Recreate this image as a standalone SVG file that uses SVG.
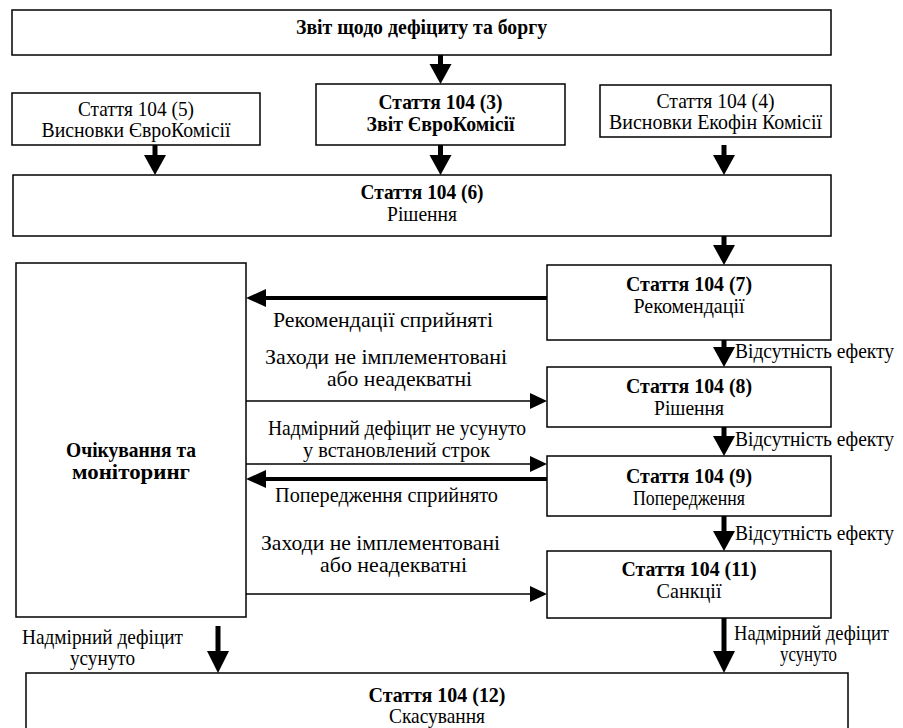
<svg xmlns="http://www.w3.org/2000/svg" width="903" height="728" viewBox="0 0 903 728">
<style>
.box{fill:#fff;stroke:#000;stroke-width:1.5}
text{font-family:"Liberation Serif","Times New Roman",serif;font-size:21px;fill:#000}
.b{font-weight:bold}
.c{text-anchor:middle}
.thick{stroke:#000;stroke-width:5;fill:none}
.thickh{stroke:#000;stroke-width:4;fill:none}
.thin{stroke:#000;stroke-width:1.6;fill:none}
.head{fill:#000;stroke:none}
</style>
<rect width="903" height="728" fill="#fff"/>
<g id="connectors">
  <line class="thick" x1="440.5" y1="55" x2="440.5" y2="66"/><polygon class="head" points="429.5,64 451.5,64 440.5,84"/>
  <line class="thick" x1="155" y1="145" x2="155" y2="157"/><polygon class="head" points="144,155 166,155 155,175"/>
  <line class="thick" x1="440.5" y1="145" x2="440.5" y2="157"/><polygon class="head" points="429.5,155 451.5,155 440.5,175"/>
  <line class="thick" x1="724" y1="145" x2="724" y2="157"/><polygon class="head" points="713,155 735,155 724,175"/>
  <line class="thick" x1="724" y1="236" x2="724" y2="247"/><polygon class="head" points="713,245 735,245 724,265"/>
  <line class="thick" x1="724" y1="340" x2="724" y2="349"/><polygon class="head" points="713,347 735,347 724,367"/>
  <line class="thick" x1="724" y1="427" x2="724" y2="438"/><polygon class="head" points="713,436 735,436 724,456"/>
  <line class="thick" x1="724" y1="516" x2="724" y2="533"/><polygon class="head" points="713,531 735,531 724,551"/>
  <line class="thick" x1="724" y1="618" x2="724" y2="655"/><polygon class="head" points="713,651 735,651 724,673"/>
  <line class="thick" x1="218" y1="626" x2="218" y2="655"/><polygon class="head" points="207,651 229,651 218,673"/>
  <line class="thickh" x1="547" y1="298" x2="264" y2="298"/><polygon class="head" points="246,298 266,289 266,307"/>
  <line class="thickh" x1="547" y1="479" x2="264" y2="479"/><polygon class="head" points="246,479 266,470 266,488"/>
  <line class="thin" x1="246" y1="401" x2="532" y2="401"/><polygon class="head" points="547,401 530,393 530,409"/>
  <line class="thin" x1="246" y1="464" x2="532" y2="464"/><polygon class="head" points="547,464 530,456 530,472"/>
  <line class="thin" x1="246" y1="594" x2="532" y2="594"/><polygon class="head" points="547,594 530,586 530,602"/>
</g>
<g id="labels">
  <text x="273" y="327" textLength="220" lengthAdjust="spacingAndGlyphs">Рекомендації сприйняті</text>
  <text x="265" y="364" textLength="242" lengthAdjust="spacingAndGlyphs">Заходи не імплементовані</text>
  <text x="327" y="386" textLength="145" lengthAdjust="spacingAndGlyphs">або неадекватні</text>
  <text x="268" y="435" textLength="258" lengthAdjust="spacingAndGlyphs">Надмірний дефіцит не усунуто</text>
  <text x="303" y="457" textLength="187" lengthAdjust="spacingAndGlyphs">у встановлений строк</text>
  <text x="275" y="502" textLength="223" lengthAdjust="spacingAndGlyphs">Попередження сприйнято</text>
  <text x="261" y="550" textLength="239" lengthAdjust="spacingAndGlyphs">Заходи не імплементовані</text>
  <text x="320" y="572" textLength="147" lengthAdjust="spacingAndGlyphs">або неадекватні</text>
  <text x="22" y="644" textLength="161" lengthAdjust="spacingAndGlyphs">Надмірний дефіцит</text>
  <text x="70" y="665" textLength="65" lengthAdjust="spacingAndGlyphs">усунуто</text>
  <text x="734" y="640" textLength="155" lengthAdjust="spacingAndGlyphs">Надмірний дефіцит</text>
  <text x="780" y="661" textLength="57" lengthAdjust="spacingAndGlyphs">усунуто</text>
  <text x="735" y="358" textLength="159" lengthAdjust="spacingAndGlyphs">Відсутність ефекту</text>
  <text x="735" y="446" textLength="159" lengthAdjust="spacingAndGlyphs">Відсутність ефекту</text>
  <text x="735" y="540" textLength="159" lengthAdjust="spacingAndGlyphs">Відсутність ефекту</text>
</g>
<g id="n-report">
  <rect class="box" x="12" y="10" width="819" height="45"/>
  <text class="b c" x="421.5" y="34" textLength="251" lengthAdjust="spacingAndGlyphs">Звіт щодо дефіциту та боргу</text>
</g>
<g id="n-104-5">
  <rect class="box" x="12" y="93" width="248" height="52"/>
  <text class="c" x="136" y="116" textLength="116" lengthAdjust="spacingAndGlyphs">Стаття 104 (5)</text>
  <text class="c" x="136" y="137" textLength="189" lengthAdjust="spacingAndGlyphs">Висновки ЄвроКомісії</text>
</g>
<g id="n-104-3">
  <rect class="box" x="316" y="84" width="249" height="61"/>
  <text class="b c" x="440.5" y="109" textLength="124" lengthAdjust="spacingAndGlyphs">Стаття 104 (3)</text>
  <text class="b c" x="440.5" y="131" textLength="148" lengthAdjust="spacingAndGlyphs">Звіт ЄвроКомісії</text>
</g>
<g id="n-104-4">
  <rect class="box" x="600" y="85" width="231" height="52"/>
  <text class="c" x="715.5" y="108" textLength="118" lengthAdjust="spacingAndGlyphs">Стаття 104 (4)</text>
  <text class="c" x="715.5" y="129" textLength="213" lengthAdjust="spacingAndGlyphs">Висновки Екофін Комісії</text>
</g>
<g id="n-104-6">
  <rect class="box" x="13" y="175" width="818" height="61"/>
  <text class="b c" x="422" y="199" textLength="123" lengthAdjust="spacingAndGlyphs">Стаття 104 (6)</text>
  <text class="c" x="422" y="221" textLength="70" lengthAdjust="spacingAndGlyphs">Рішення</text>
</g>
<g id="n-monitoring">
  <rect class="box" x="16" y="263" width="230" height="354"/>
  <text class="b c" x="131" y="457" textLength="130" lengthAdjust="spacingAndGlyphs">Очікування та</text>
  <text class="b c" x="131" y="479" textLength="118" lengthAdjust="spacingAndGlyphs">моніторинг</text>
</g>
<g id="n-104-7">
  <rect class="box" x="547" y="265" width="284" height="75"/>
  <text class="b c" x="689" y="291" textLength="126" lengthAdjust="spacingAndGlyphs">Стаття 104 (7)</text>
  <text class="c" x="689" y="313" textLength="111" lengthAdjust="spacingAndGlyphs">Рекомендації</text>
</g>
<g id="n-104-8">
  <rect class="box" x="547" y="367" width="284" height="60"/>
  <text class="b c" x="689" y="393" textLength="126" lengthAdjust="spacingAndGlyphs">Стаття 104 (8)</text>
  <text class="c" x="689" y="415" textLength="70" lengthAdjust="spacingAndGlyphs">Рішення</text>
</g>
<g id="n-104-9">
  <rect class="box" x="547" y="456" width="284" height="60"/>
  <text class="b c" x="689" y="483" textLength="126" lengthAdjust="spacingAndGlyphs">Стаття 104 (9)</text>
  <text class="c" x="689" y="505" textLength="112" lengthAdjust="spacingAndGlyphs">Попередження</text>
</g>
<g id="n-104-11">
  <rect class="box" x="547" y="551" width="284" height="67"/>
  <text class="b c" x="689" y="576" textLength="135" lengthAdjust="spacingAndGlyphs">Стаття 104 (11)</text>
  <text class="c" x="689" y="598" textLength="65" lengthAdjust="spacingAndGlyphs">Санкції</text>
</g>
<g id="n-104-12">
  <rect class="box" x="26" y="673" width="822" height="70"/>
  <text class="b c" x="437" y="702" textLength="137" lengthAdjust="spacingAndGlyphs">Стаття 104 (12)</text>
  <text class="c" x="437" y="723" textLength="96" lengthAdjust="spacingAndGlyphs">Скасування</text>
</g>
</svg>
